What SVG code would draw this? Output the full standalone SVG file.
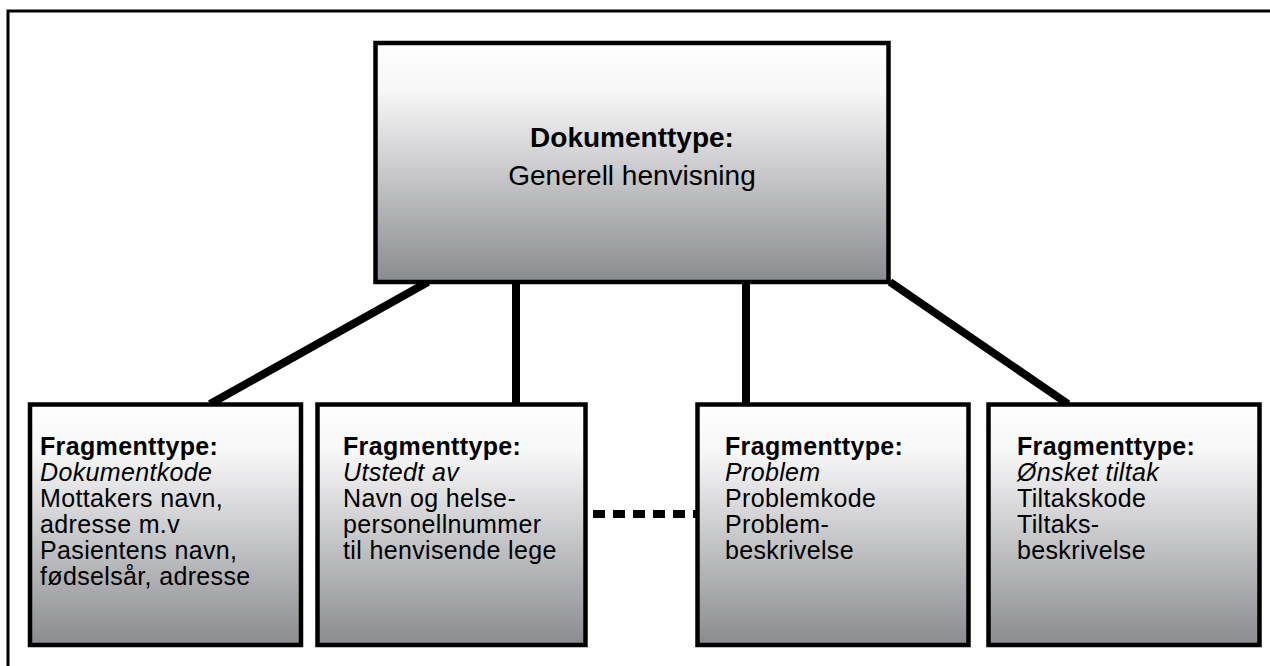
<svg xmlns="http://www.w3.org/2000/svg" width="1270" height="666" viewBox="0 0 1270 666">
<style>
.box{stroke:#000;stroke-width:4.5;fill:url(#g)}
.t{font-family:"Liberation Sans",Arial,sans-serif;fill:#000}
.b{font-weight:bold}
.i{font-style:italic}
.big{font-size:28px}
.sm{font-size:25px;letter-spacing:0.35px}
.conn{stroke:#000;stroke-width:8;fill:none}
</style>
<defs>
<linearGradient id="g" x1="0" y1="0" x2="0" y2="1">
<stop offset="0" stop-color="#ffffff"/>
<stop offset="0.2" stop-color="#f7f7f8"/>
<stop offset="1" stop-color="#8a8b8f"/>
</linearGradient>
</defs>
<rect width="1270" height="666" fill="#fff"/>
<path d="M8,666 V11 H1270" fill="none" stroke="#000" stroke-width="3"/>
<g id="connectors">
<line class="conn" x1="428" y1="282" x2="210" y2="404"/>
<line class="conn" x1="516" y1="282" x2="516" y2="404"/>
<line class="conn" x1="746" y1="282" x2="746" y2="404"/>
<line class="conn" x1="890" y1="282" x2="1068" y2="404"/>
<line class="conn" x1="593" y1="514" x2="697" y2="514" stroke-dasharray="12 8"/>
</g>
<g id="top">
<rect class="box" x="375.5" y="43" width="513" height="239"/>
<text class="t big" text-anchor="middle"><tspan class="b" x="632" y="147">Dokumenttype:</tspan><tspan x="632" y="185">Generell henvisning</tspan></text>
</g>
<g id="frag1">
<rect class="box" x="30" y="404.5" width="271" height="240.5"/>
<text class="t sm"><tspan class="b" x="40" y="455">Fragmenttype:</tspan><tspan class="i" x="40" y="481">Dokumentkode</tspan><tspan x="40" y="507">Mottakers navn,</tspan><tspan x="40" y="533">adresse m.v</tspan><tspan x="40" y="559">Pasientens navn,</tspan><tspan x="40" y="585">fødselsår, adresse</tspan></text>
</g>
<g id="frag2">
<rect class="box" x="317.5" y="404.5" width="268" height="240.5"/>
<text class="t sm"><tspan class="b" x="343" y="455">Fragmenttype:</tspan><tspan class="i" x="343" y="481">Utstedt av</tspan><tspan x="343" y="507">Navn og helse-</tspan><tspan x="343" y="533">personellnummer</tspan><tspan x="343" y="559">til henvisende lege</tspan></text>
</g>
<g id="frag3">
<rect class="box" x="697.5" y="404.5" width="271" height="240.5"/>
<text class="t sm"><tspan class="b" x="725" y="455">Fragmenttype:</tspan><tspan class="i" x="725" y="481">Problem</tspan><tspan x="725" y="507">Problemkode</tspan><tspan x="725" y="533">Problem-</tspan><tspan x="725" y="559">beskrivelse</tspan></text>
</g>
<g id="frag4">
<rect class="box" x="988.5" y="404.5" width="271" height="240.5"/>
<text class="t sm"><tspan class="b" x="1017" y="455">Fragmenttype:</tspan><tspan class="i" x="1017" y="481">Ønsket tiltak</tspan><tspan x="1017" y="507">Tiltakskode</tspan><tspan x="1017" y="533">Tiltaks-</tspan><tspan x="1017" y="559">beskrivelse</tspan></text>
</g>
</svg>
